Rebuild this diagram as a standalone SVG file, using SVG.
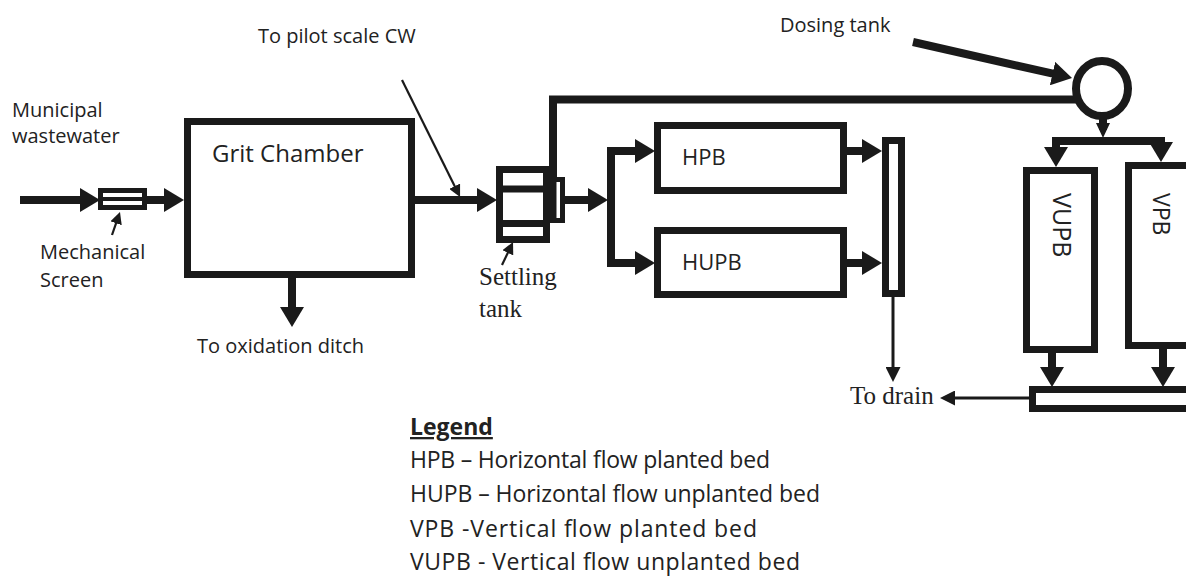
<svg xmlns="http://www.w3.org/2000/svg" width="1186" height="577" viewBox="0 0 1186 577">
<style>
.box{fill:#fff;stroke:#1a1a1a;stroke-width:7}
.thick{fill:none;stroke:#1a1a1a;stroke-width:8}
.thin{fill:none;stroke:#1a1a1a;stroke-width:3}
.ptr{fill:none;stroke:#1a1a1a;stroke-width:2.2}
.lbl{font-family:"Open Sans","Liberation Sans",sans-serif;font-size:20px;fill:#222}
.ser{font-family:"Liberation Serif","Times New Roman",serif;font-size:25px;fill:#222}
.leg{font-family:"Open Sans","Liberation Sans",sans-serif;font-size:23px;fill:#222}
</style>
<defs>
<marker id="a" markerUnits="userSpaceOnUse" markerWidth="20" markerHeight="24" refX="5" refY="12" orient="auto-start-reverse"><path d="M0,0 L20,12 L0,24 Z" fill="#1a1a1a"/></marker>
<marker id="t" markerUnits="userSpaceOnUse" markerWidth="15" markerHeight="15" refX="3" refY="7.5" orient="auto"><path d="M0,0 L15,7.5 L0,15 Z" fill="#1a1a1a"/></marker>
<marker id="p" markerUnits="userSpaceOnUse" markerWidth="12" markerHeight="12" refX="2" refY="6" orient="auto"><path d="M0,0 L12,6 L0,12 Z" fill="#1a1a1a"/></marker>
</defs>
<rect width="1186" height="577" fill="#fff"/>

<g id="connectors">
<line class="thick" x1="20" y1="200" x2="85" y2="200" marker-end="url(#a)"/>
<line class="thick" x1="147" y1="200" x2="169" y2="200" marker-end="url(#a)"/>
<line class="thick" x1="411" y1="200" x2="482" y2="200" marker-end="url(#a)"/>
<line class="thick" x1="292" y1="278" x2="292" y2="312" marker-end="url(#a)"/>
<path class="thick" d="M553,177 V99.5 H1076"/>
<line class="thick" x1="565" y1="200" x2="593" y2="200" marker-end="url(#a)"/>
<path class="thick" d="M640,151 H611 V263 H640" marker-start="url(#a)" marker-end="url(#a)"/>
<line class="thick" x1="847" y1="151" x2="867" y2="151" marker-end="url(#a)"/>
<line class="thick" x1="847" y1="263" x2="867" y2="263" marker-end="url(#a)"/>
<line class="thin" x1="893" y1="297" x2="893" y2="370" marker-end="url(#t)"/>
<line class="thin" x1="1030" y1="398" x2="952" y2="398" marker-end="url(#t)"/>
<line class="thick" x1="913" y1="42" x2="1057.4" y2="74.7" marker-end="url(#a)"/>
<line class="thick" x1="1103" y1="115" x2="1103" y2="130"/>
<path d="M1096,123 L1110,123 L1103,138 Z" fill="#1a1a1a"/>
<path class="thick" d="M1056,152 V141 H1161 V147" marker-start="url(#a)" marker-end="url(#a)"/>
<line class="thick" x1="1052" y1="353" x2="1052" y2="372" marker-end="url(#a)"/>
<line class="thick" x1="1163" y1="349" x2="1163" y2="372" marker-end="url(#a)"/>
<line class="ptr" x1="112" y1="235" x2="116.7" y2="221.4" marker-end="url(#p)"/>
<line class="ptr" x1="502" y1="265" x2="508.7" y2="251" marker-end="url(#p)"/>
<line class="ptr" x1="402" y1="80" x2="455.6" y2="188" marker-end="url(#p)"/>
</g>

<g id="screen">
<rect x="100.5" y="190.5" width="44" height="17" fill="#fff" stroke="#1a1a1a" stroke-width="5"/>
<line x1="100" y1="199" x2="145" y2="199" stroke="#1a1a1a" stroke-width="4"/>
</g>
<g id="grit">
<rect class="box" x="187.5" y="121.5" width="224" height="153"/>
<text class="lbl" x="212" y="162" style="font-size:24px">Grit Chamber</text>
</g>
<g id="settling">
<rect class="box" x="499.5" y="169.5" width="47" height="70"/>
<line x1="496" y1="189" x2="550" y2="189" stroke="#1a1a1a" stroke-width="7"/>
<line x1="496" y1="223.5" x2="550" y2="223.5" stroke="#1a1a1a" stroke-width="7"/>
<rect x="552.5" y="179.5" width="10" height="41" fill="#fff" stroke="#1a1a1a" stroke-width="5"/>
<line x1="553" y1="177" x2="553" y2="223" stroke="#1a1a1a" stroke-width="7"/>
</g>
<g id="hpb">
<rect class="box" x="657.5" y="125.5" width="186" height="65"/>
<text class="lbl" x="682" y="165" style="font-size:22px">HPB</text>
</g>
<g id="hupb">
<rect class="box" x="657.5" y="230.5" width="186" height="64"/>
<text class="lbl" x="682" y="270" style="font-size:22px">HUPB</text>
</g>
<g id="collector">
<rect class="box" x="885.5" y="140.5" width="16" height="153"/>
</g>
<g id="dosing">
<ellipse cx="1102" cy="88.5" rx="26" ry="27.5" fill="#fff" stroke="#1a1a1a" stroke-width="8"/>
</g>
<g id="vupb">
<rect class="box" x="1026.5" y="170.5" width="68" height="179"/>
<text class="lbl" transform="translate(1053,193) rotate(90)" style="font-size:25px">VUPB</text>
</g>
<g id="vpb">
<rect class="box" x="1128.5" y="165.5" width="80" height="180"/>
<text class="lbl" transform="translate(1153,193) rotate(90)" style="font-size:23px">VPB</text>
</g>
<g id="bottom-collector">
<rect class="box" x="1032.5" y="389.5" width="180" height="19"/>
</g>

<g id="labels">
<text class="lbl" x="12" y="117">Municipal</text>
<text class="lbl" x="12" y="143">wastewater</text>
<text class="lbl" x="40" y="259">Mechanical</text>
<text class="lbl" x="40" y="287">Screen</text>
<text class="lbl" x="258" y="43">To pilot scale CW</text>
<text class="lbl" x="780" y="32">Dosing tank</text>
<text class="lbl" x="197" y="353">To oxidation ditch</text>
<text class="ser" x="479" y="285">Settling</text>
<text class="ser" x="479" y="317">tank</text>
<text class="ser" x="850" y="404">To drain</text>
</g>

<g id="legend">
<text class="leg" x="410" y="435" font-weight="bold" text-decoration="underline">Legend</text>
<text class="leg" x="410" y="468" textLength="360" lengthAdjust="spacing">HPB – Horizontal flow planted bed</text>
<text class="leg" x="410" y="502" textLength="410" lengthAdjust="spacing">HUPB – Horizontal flow unplanted bed</text>
<text class="leg" x="410" y="537" textLength="347" lengthAdjust="spacing">VPB -Vertical flow planted bed</text>
<text class="leg" x="410" y="570" textLength="390" lengthAdjust="spacing">VUPB - Vertical flow unplanted bed</text>
</g>
</svg>
